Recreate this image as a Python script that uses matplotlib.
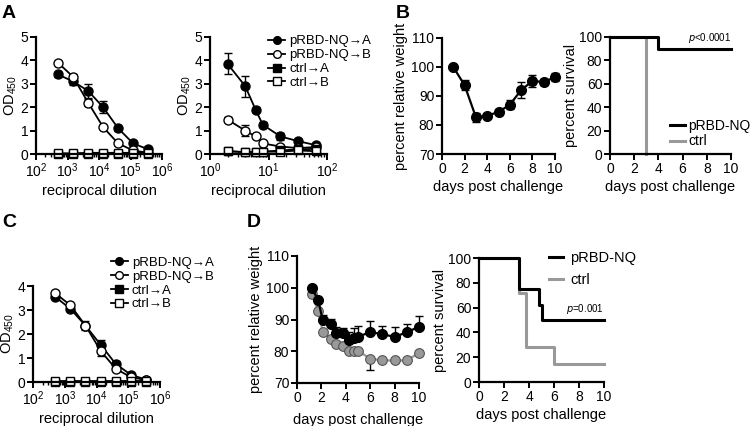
import numpy as np
import matplotlib
matplotlib.use("Agg")
import matplotlib.pyplot as plt
from matplotlib.ticker import LogLocator, NullFormatter, MultipleLocator

plt.rcParams["font.family"] = ["Liberation Sans", "DejaVu Sans"]
plt.rcParams["mathtext.default"] = "regular"

# ---- panel A (left): serum dilution ELISA ----
dil_a = [500, 1500, 4500, 13500, 40500, 121500, 364500]
a_nq_to_a = [3.4, 3.1, 2.7, 2.0, 1.1, 0.45, 0.2]
a_nq_to_a_err = [0.12, 0.15, 0.3, 0.25, 0.1, 0.05, 0.05]
a_nq_to_b = [3.9, 3.3, 2.2, 1.15, 0.45, 0.15, 0.05]
a_nq_to_b_err = [0.08, 0.1, 0.15, 0.05, 0.05, 0.02, 0.02]
a_ctrl_to_a = [0.02, 0.02, 0.02, 0.02, 0.02, 0.02, 0.02]
a_ctrl_to_b = [0.03, 0.03, 0.05, 0.05, 0.05, 0.05, 0.05]

# ---- panel A (right) ----
dil_a2 = [2, 4, 6, 8, 16, 32, 64]
a2_nq_to_a = [3.85, 2.9, 1.9, 1.25, 0.75, 0.55, 0.38]
a2_nq_to_a_err = [0.45, 0.45, 0.1, 0.1, 0.15, 0.05, 0.05]
a2_nq_to_b = [1.47, 1.0, 0.75, 0.45, 0.32, 0.25, 0.3]
a2_nq_to_b_err = [0.1, 0.25, 0.05, 0.05, 0.05, 0.05, 0.05]
a2_ctrl_to_a = [0.12, 0.08, 0.08, 0.1, 0.15, 0.2, 0.22]
a2_ctrl_to_b = [0.12, 0.08, 0.08, 0.1, 0.1, 0.15, 0.12]

# ---- panel B ----
days_b = [1, 2, 3, 4, 5, 6, 7, 8, 9, 10]
weight_b = [100, 93.7, 82.7, 83.2, 84.5, 87, 92, 95.2, 94.8, 96.5]
weight_b_err = [0.3, 1.8, 1.5, 0.5, 1.0, 1.5, 2.8, 2.0, 1.0, 1.3]
surv_b_nq_t = [0, 4, 10]
surv_b_nq = [100, 90, 90]
surv_b_ctrl_t = [0, 3]
surv_b_ctrl = [100, 0]

# ---- panel C ----
dil_c = [500, 1500, 4500, 13500, 40500, 121500, 364500]
c_nq_to_a = [3.55, 3.05, 2.35, 1.55, 0.75, 0.3, 0.1]
c_nq_to_a_err = [0.05, 0.05, 0.2, 0.2, 0.12, 0.05, 0.05]
c_nq_to_b = [3.7, 3.2, 2.35, 1.3, 0.55, 0.2, 0.08]
c_nq_to_b_err = [0.05, 0.05, 0.1, 0.2, 0.05, 0.05, 0.03]
c_ctrl_to_a = [0.02, 0.02, 0.02, 0.02, 0.02, 0.02, 0.02]
c_ctrl_to_b = [0.03, 0.03, 0.03, 0.03, 0.03, 0.03, 0.03]

# ---- panel D ----
days_d = [1.2, 1.75, 2.1, 2.8, 3.2, 3.75, 4.25, 4.7, 5, 6, 7, 8, 9, 10]
weight_d_nq = [100, 96, 89.8, 88.7, 85.6, 85.8, 83.5, 84.2, 84.6, 86, 85.4, 84.5, 86, 87.7]
weight_d_nq_err = [0.5, 0.5, 1.5, 1.5, 2, 1.5, 2.5, 3, 3.5, 3.5, 2.5, 3, 2.5, 3.5]
weight_d_ctrl = [98, 92.8, 86.2, 84, 82.3, 81.5, 80.1, 80.1, 80.1, 77.7, 77.1, 77.1, 77.1, 79.5]
weight_d_ctrl_err = [0.5, 0.5, 0.5, 0.5, 0.5, 0.5, 0.5, 0.5, 0.5, 3.5, 0.5, 0.5, 0.5, 0.5]
surv_d_nq_t = [0, 3.2, 4.8, 5.05, 10]
surv_d_nq = [100, 75, 62.5, 50, 50]
surv_d_ctrl_t = [0, 3.2, 3.75, 6, 10]
surv_d_ctrl = [100, 71.4, 28.6, 14.3, 14.3]

GRAY = "#999999"
TICK_FS = 10
LABEL_FS = 10.5
LEG_FS = 9.5
EB = dict(fmt="none", ecolor="black", capsize=3, elinewidth=1.0, capthick=1.0,
          clip_on=False, zorder=1.5)


def prism(ax):
    for s in ("top", "right"):
        ax.spines[s].set_visible(False)
    for s in ("left", "bottom"):
        ax.spines[s].set_linewidth(1.6)
    ax.tick_params(direction="out", length=4, width=1.4, labelsize=TICK_FS, pad=1.5)
    ax.tick_params(which="minor", direction="out", length=2.5, width=1.0)


def log_axis(ax, lo, hi):
    ax.set_xscale("log")
    ax.set_xlim(lo, hi)
    ax.xaxis.set_major_locator(LogLocator(base=10, numticks=10))
    ax.xaxis.set_minor_locator(LogLocator(base=10, subs=np.arange(2, 10), numticks=50))
    ax.xaxis.set_minor_formatter(NullFormatter())


def elisa(ax, x, nq_a, nq_a_err, nq_b, nq_b_err, ctrl_a, ctrl_b):
    ax.errorbar(x, nq_a, yerr=nq_a_err, **EB)
    ax.errorbar(x, nq_b, yerr=nq_b_err, **EB)
    kw = dict(color="black", lw=1.3, mec="black", mew=1.0, clip_on=False)
    ax.plot(x, nq_a, marker="o", ms=6.5, mfc="black", label="pRBD-NQ→A", **kw)
    ax.plot(x, nq_b, marker="o", ms=6.5, mfc="white", label="pRBD-NQ→B", **kw)
    ax.plot(x, ctrl_a, marker="s", ms=6, mfc="black", label="ctrl→A", **kw)
    ax.plot(x, ctrl_b, marker="s", ms=6, mfc="white", label="ctrl→B", **kw)
    ax.set_ylabel("OD$_{450}$", fontsize=LABEL_FS, labelpad=1)
    ax.set_xlabel("reciprocal dilution", fontsize=LABEL_FS, labelpad=3)


def elisa_legend(ax, x, y):
    ax.legend(loc="upper left", bbox_to_anchor=(x, y), frameon=False, fontsize=LEG_FS,
              handlelength=1.3, handletextpad=0.3, labelspacing=0.12, borderaxespad=0,
              markerscale=0.85)


fig = plt.figure(figsize=(7.5, 4.26), dpi=100)
W, H = 750.0, 426.0


def box(x0, x1, ytop, ybot):
    return [x0 / W, 1 - ybot / H, (x1 - x0) / W, (ybot - ytop) / H]


# A left
ax = fig.add_axes(box(36, 162, 37, 154))
prism(ax)
log_axis(ax, 1e2, 1e6)
elisa(ax, dil_a, a_nq_to_a, a_nq_to_a_err, a_nq_to_b, a_nq_to_b_err, a_ctrl_to_a, a_ctrl_to_b)
ax.set_ylim(0, 5)
ax.yaxis.set_major_locator(MultipleLocator(1))

# A right
ax = fig.add_axes(box(210, 327, 37, 154))
prism(ax)
log_axis(ax, 1e0, 1e2)
elisa(ax, dil_a2, a2_nq_to_a, a2_nq_to_a_err, a2_nq_to_b, a2_nq_to_b_err, a2_ctrl_to_a, a2_ctrl_to_b)
ax.set_ylim(0, 5)
ax.yaxis.set_major_locator(MultipleLocator(1))
elisa_legend(ax, 0.45, 1.06)

# B left
ax = fig.add_axes(box(442, 555, 38, 154))
prism(ax)
ax.errorbar(days_b, weight_b, yerr=weight_b_err, **EB)
ax.plot(days_b, weight_b, marker="o", color="black", mfc="black", lw=1.6, ms=7, clip_on=False)
ax.set_xlim(0, 10)
ax.set_ylim(70, 110)
ax.xaxis.set_major_locator(MultipleLocator(2))
ax.yaxis.set_major_locator(MultipleLocator(10))
ax.set_xlabel("days post challenge", fontsize=LABEL_FS, labelpad=3)
ax.set_ylabel("percent relative weight", fontsize=LABEL_FS, labelpad=2)

# B right
ax = fig.add_axes(box(610, 731, 37, 154))
prism(ax)
ax.step(surv_b_ctrl_t, surv_b_ctrl, where="post", color=GRAY, lw=2.2, label="ctrl", clip_on=False)
ax.step(surv_b_nq_t, surv_b_nq, where="post", color="black", lw=2.2, label="pRBD-NQ", clip_on=False)
ax.set_xlim(0, 10)
ax.set_ylim(0, 100)
ax.xaxis.set_major_locator(MultipleLocator(2))
ax.yaxis.set_major_locator(MultipleLocator(20))
ax.set_xlabel("days post challenge", fontsize=LABEL_FS, labelpad=3)
ax.set_ylabel("percent survival", fontsize=LABEL_FS, labelpad=1)
ax.text(10, 93, "$\\it{p}$<0.0001", ha="right", va="bottom", fontsize=7)
h, l = ax.get_legend_handles_labels()
ax.legend(h[::-1], l[::-1], loc="lower left", bbox_to_anchor=(0.45, 0.0), frameon=False,
          fontsize=10, handlelength=1.1, handletextpad=0.2, labelspacing=0.1,
          borderaxespad=0)

# C
ax = fig.add_axes(box(33, 160, 286, 382))
prism(ax)
log_axis(ax, 1e2, 1e6)
elisa(ax, dil_c, c_nq_to_a, c_nq_to_a_err, c_nq_to_b, c_nq_to_b_err, c_ctrl_to_a, c_ctrl_to_b)
ax.set_ylim(0, 4)
ax.yaxis.set_major_locator(MultipleLocator(1))
elisa_legend(ax, 0.57, 1.36)

# D left
ax = fig.add_axes(box(297, 419, 256, 383))
prism(ax)
ax.errorbar(days_d, weight_d_ctrl, yerr=[weight_d_ctrl_err, [0] * len(days_d)], **EB)
ax.errorbar(days_d, weight_d_nq, yerr=[[0] * len(days_d), weight_d_nq_err], **EB)
ax.plot(days_d, weight_d_ctrl, marker="o", color=GRAY, mfc=GRAY, mec="#555555", mew=0.8,
        lw=1.6, ms=7, clip_on=False)
ax.plot(days_d, weight_d_nq, marker="o", color="black", mfc="black", lw=1.6, ms=7, clip_on=False)
ax.set_xlim(0, 10)
ax.set_ylim(70, 110)
ax.xaxis.set_major_locator(MultipleLocator(2))
ax.yaxis.set_major_locator(MultipleLocator(10))
ax.set_xlabel("days post challenge", fontsize=LABEL_FS, labelpad=6)
ax.set_ylabel("percent relative weight", fontsize=LABEL_FS, labelpad=2)

# D right
ax = fig.add_axes(box(479, 604, 258, 382))
prism(ax)
ax.step(surv_d_ctrl_t, surv_d_ctrl, where="post", color=GRAY, lw=2.2, label="ctrl", clip_on=False)
ax.step(surv_d_nq_t, surv_d_nq, where="post", color="black", lw=2.2, label="pRBD-NQ", clip_on=False)
ax.set_xlim(0, 10)
ax.set_ylim(0, 100)
ax.xaxis.set_major_locator(MultipleLocator(2))
ax.yaxis.set_major_locator(MultipleLocator(20))
ax.set_xlabel("days post challenge", fontsize=LABEL_FS, labelpad=3)
ax.set_ylabel("percent survival", fontsize=LABEL_FS, labelpad=1)
ax.text(10, 53, "$\\it{p}$=0.001", ha="right", va="bottom", fontsize=7)
h, l = ax.get_legend_handles_labels()
ax.legend(h[::-1], l[::-1], loc="upper left", bbox_to_anchor=(0.51, 1.1), frameon=False,
          fontsize=LABEL_FS, handlelength=1.0, handletextpad=0.5, labelspacing=0.5,
          borderaxespad=0)

# panel letters
for letter, x, y in [("A", 2, 5), ("B", 396, 5), ("C", 2, 214), ("D", 247, 214)]:
    fig.text(x / W, 1 - y / H, letter, fontsize=14, fontweight="bold", va="top", ha="left")

fig.savefig("out.png", dpi=100)
